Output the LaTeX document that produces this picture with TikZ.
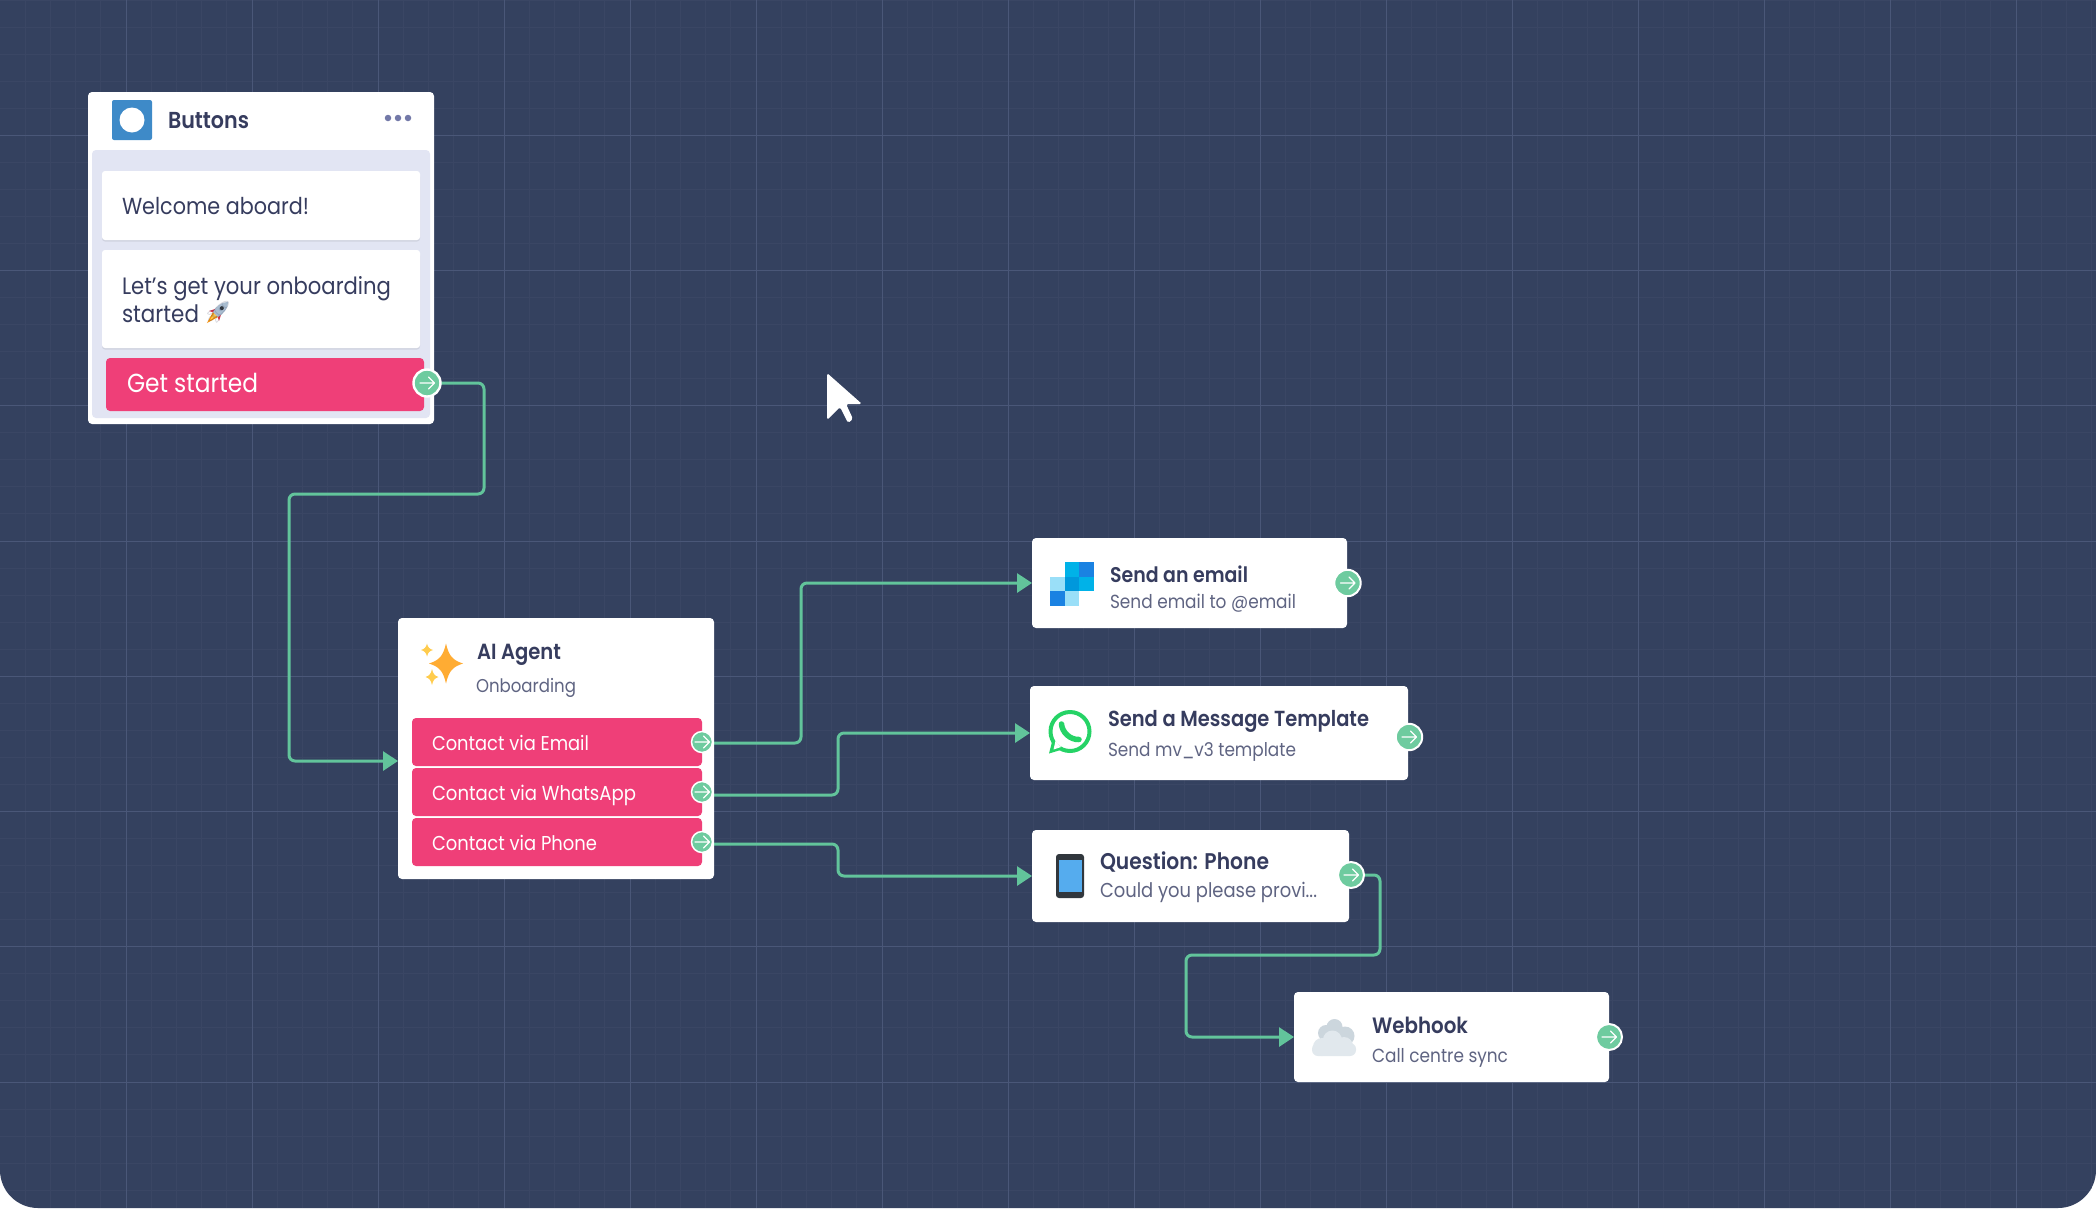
\documentclass[tikz,border=0pt]{standalone}
\usepackage{fontspec}
\usepackage{graphicx}
\usetikzlibrary{arrows.meta,backgrounds}
\setmainfont{Poppins}
\newfontfamily\medf{Poppins SemiBold}
\newfontfamily\emojif{Noto Emoji}
\definecolor{bgc}{HTML}{34415F}
\definecolor{gmin}{HTML}{3A4664}
\definecolor{gmaj}{HTML}{4A5778}
\definecolor{pinkc}{HTML}{EF3F78}
\definecolor{lav}{HTML}{E2E5F3}
\definecolor{wirec}{HTML}{62C49B}
\definecolor{portc}{HTML}{6ECB9F}
\definecolor{darkt}{HTML}{363C5E}
\definecolor{subt}{HTML}{5F6482}
\definecolor{iconb}{HTML}{3E8AC8}
\definecolor{dotc}{HTML}{7379A8}
\definecolor{wag}{HTML}{25D366}
\definecolor{sa}{HTML}{00B2E8}
\definecolor{sb}{HTML}{1A82E2}
\definecolor{sc}{HTML}{9ADFF8}
\definecolor{sd}{HTML}{0098DC}
\definecolor{phb}{HTML}{31373D}
\definecolor{phs}{HTML}{55ACEE}
\definecolor{cla}{HTML}{CCD6DD}
\definecolor{clb}{HTML}{E1E8ED}
\definecolor{stara}{HTML}{FFAC33}
\definecolor{starb}{HTML}{FFCC4D}
\definecolor{rbody}{HTML}{A9BDD0}
\definecolor{rred}{HTML}{DD2E44}
\definecolor{rorg}{HTML}{F4900C}
\definecolor{ryel}{HTML}{FFCC4D}
\tikzset{
  boxst/.style={draw=none,inner sep=0pt,outer sep=0pt,rounded corners=4pt,anchor=north west,rectangle},
  cardst/.style={boxst,fill=white},
  lavst/.style={boxst,fill=lav},
  inst/.style={boxst,fill=white,rounded corners=3pt},
  pinkst/.style={boxst,fill=pinkc},
  portst/.style={circle,fill=portc,draw=white,inner sep=0pt,outer sep=0pt},
  wire/.style={draw=wirec,line width=3pt,rounded corners=6pt},
  wirea/.style={wire,-{Triangle[length=15pt,width=19pt]}},
  txtst/.style={inner sep=0pt,outer sep=0pt,anchor=base west},
  parrow/.style={draw=white,line width=1.3pt,line cap=round,line join=round}
}
\newcommand{\bx}[6]{\node[#6,minimum width=#4pt-#2pt,minimum height=#5pt-#3pt] (#1) at (#2,#3) {};}
\newcommand{\tx}[7]{\node[txtst,text=#6] (#1) at (#2,#3) {\scalebox{1}[1.12]{\resizebox{#4pt}{!}{#5#7}}};}
\newcommand{\portn}[5]{%
  \node[portst,minimum size=#4*2pt,line width=#5pt] (#1) at (#2,#3) {};
  \draw[parrow] (#2-7,#3) -- (#2+7,#3) (#2+1.5,#3-6) -- (#2+7.5,#3) -- (#2+1.5,#3+6);}
\newcommand{\sparkle}[5]{\begin{scope}[shift={(#1,#2)},xscale=#3,yscale=#4]
  \fill[#5] (0,-1) .. controls (.17,-.38) and (.38,-.17) .. (1,0) .. controls (.38,.17) and (.17,.38) .. (0,1) .. controls (-.17,.38) and (-.38,.17) .. (-1,0) .. controls (-.38,-.17) and (-.17,-.38) .. (0,-1) -- cycle;
\end{scope}}
\begin{document}
\begin{tikzpicture}[x=1pt,y=-1pt]
\useasboundingbox (0,0) rectangle (2096,1208);
\begin{pgfonlayer}{background}
\fill[white] (0,0) rectangle (2096,1208);
\fill[bgc] (0,0) -- (2096,0) -- (2096,1170) arc[start angle=0,end angle=90,radius=38] -- (38,1208) arc[start angle=90,end angle=180,radius=38] -- cycle;
\begin{scope}
\clip (0,0) -- (2096,0) -- (2096,1170) arc[start angle=0,end angle=90,radius=38] -- (38,1208) arc[start angle=90,end angle=180,radius=38] -- cycle;
\foreach \i in {1,...,83} \draw[gmin,line width=1pt] ({\i*25.2},0) -- ({\i*25.2},1208);
\foreach \i in {0,...,44} \draw[gmin,line width=1pt] (0,{\i*27.05}) -- (2096,{\i*27.05});
\foreach \i in {1,...,16} \draw[gmaj,line width=1pt] ({\i*126},0) -- ({\i*126},1208);
\foreach \i in {1,...,8} \draw[gmaj,line width=1pt] (0,{\i*135.27}) -- (2096,{\i*135.27});
\end{scope}
\end{pgfonlayer}

% cursor
\fill[white,rounded corners=1.8pt] (827,373) -- (862,404) -- (846,404) -- (853,419) -- (848,423) -- (840,407) -- (827,420) -- cycle;

% Buttons card
\bx{btncard}{88}{92}{434}{424}{cardst}
\bx{btnlav}{92}{150}{430}{418}{lavst}
\fill[black!8!lav,rounded corners=3pt] (102,174) rectangle (420,241.5);
\fill[black!8!lav,rounded corners=3pt] (102,253) rectangle (420,349.5);
\bx{welcbox}{102}{171}{420}{240}{inst}
\bx{letsbox}{102}{250}{420}{348}{inst}
\bx{getbox}{106}{358}{424}{411}{pinkst}
\node[boxst,fill=iconb,rounded corners=2pt,minimum size=40pt] (btnicon) at (112,100) {};
\node[circle,fill=white,inner sep=0pt,minimum size=25pt] (btndot) at (132,120) {};
\tx{btntitle}{168}{128}{81}{\medf}{darkt}{Buttons}
\node[circle,fill=dotc,inner sep=0pt,minimum size=6.5pt] (d1) at (388,118) {};
\node[circle,fill=dotc,inner sep=0pt,minimum size=6.5pt] (d2) at (398,118) {};
\node[circle,fill=dotc,inner sep=0pt,minimum size=6.5pt] (d3) at (408,118) {};
\tx{welc}{122}{214}{187}{}{darkt}{Welcome aboard!}
\tx{lets}{122}{294}{269}{}{darkt}{Let's get your onboarding}
\tx{start}{122}{322}{77}{}{darkt}{started}
% rocket
\begin{scope}[shift={(219,311)},rotate=-45]
  \fill[rred] (-7,7) -- (-2.5,-2) -- (2.5,-2) -- (7,7) -- (3,5) -- (-3,5) -- cycle;
  \fill[rorg] (-3.5,5) -- (3.5,5) -- (0,17) -- cycle;
  \fill[ryel] (-1.8,5) -- (1.8,5) -- (0,13) -- cycle;
  \fill[rbody] (0,-13) .. controls (5,-8) and (5,0) .. (3.5,5) -- (-3.5,5) .. controls (-5,0) and (-5,-8) .. (0,-13) -- cycle;
  \fill[phb] (0,-4) circle (2);
\end{scope}
\gdef\rockettxt{🚀}
\node[inner sep=0pt,outer sep=0pt,text=darkt,opacity=.2,font=\emojif\fontsize{22pt}{22pt}\selectfont] (rocket) at (218,312) {\rockettxt};
\tx{gets}{127}{392}{131}{}{white}{Get started}
\portn{pget}{427}{383}{13.5}{2.4}

% AI agent
\bx{aicard}{398}{618}{714}{879}{cardst}
\coordinate (aiin) at (398,761);
\sparkle{446}{663.5}{17}{20}{stara}
\sparkle{427}{650}{6}{6.5}{starb}
\sparkle{432}{677}{6.5}{8}{starb}
\tx{aititle}{477}{659}{84}{\medf}{darkt}{AI Agent}
\tx{aisub}{476}{692}{100}{}{subt}{Onboarding}
\bx{bem}{412}{718}{702}{766}{pinkst}
\bx{bwa}{412}{768}{702}{816}{pinkst}
\bx{bph}{412}{818}{702}{866}{pinkst}
\tx{tem}{432}{750}{157}{}{white}{Contact via Email}
\tx{twa}{432}{800}{204}{}{white}{Contact via WhatsApp}
\tx{tph}{432}{850}{165}{}{white}{Contact via Phone}
\portn{pem}{702}{742}{10.5}{1.5}
\portn{pwa}{702}{792}{10.5}{1.5}
\portn{pph}{702}{842}{10.5}{1.5}
\coordinate (oem) at (714,743);
\coordinate (owa) at (714,795);
\coordinate (oph) at (714,844);

% Send email
\bx{sendcard}{1032}{538}{1347}{628}{cardst}
\fill[sa] (1064.6,562) rectangle (1079.4,576.7);
\fill[sb] (1079.3,562) rectangle (1094,576.7);
\fill[sc] (1050,576.6) rectangle (1064.7,591.4);
\fill[sd] (1064.6,576.6) rectangle (1079.4,591.4);
\fill[sa] (1079.3,576.6) rectangle (1094,591.4);
\fill[sb] (1050,591.3) rectangle (1064.7,606);
\fill[sc] (1064.6,591.3) rectangle (1079.4,606);
\tx{sendt}{1110}{582}{138}{\medf}{darkt}{Send an email}
\tx{sends}{1110}{608}{186}{}{subt}{Send email to @email}
\portn{psend}{1347.5}{583}{13.2}{2}

% Message
\bx{msgcard}{1030}{686}{1408}{780}{cardst}
\fill[wag] (1049,753.5) -- (1053,738) -- (1064,749) -- cycle;
\draw[wag,line width=4pt,fill=white] (1070,731.5) circle (19.5);
\fill[white] (1053.5,749.5) -- (1055.5,741) -- (1061,747) -- cycle;
\draw[wag,line width=5.5pt,line cap=round] (1061.5,724) .. controls (1062,732) and (1070,740) .. (1079,739.5);
\tx{msgt}{1108}{726}{261}{\medf}{darkt}{Send a Message Template}
\tx{msgs}{1108}{756}{188}{}{subt}{Send mv\_v3 template}
\portn{pmsg}{1409}{737}{13.2}{2}

% Question
\bx{qcard}{1032}{830}{1349}{922}{cardst}
\fill[phb,rounded corners=3pt] (1056,854) rectangle (1084,898);
\fill[phs] (1058.5,860) rectangle (1081.5,892);
\tx{qt}{1100}{869}{169}{\medf}{darkt}{Question: Phone}
\tx{qs}{1100}{897}{217}{}{subt}{Could you please provi...}
\portn{pq}{1351}{875}{13}{2}

% Webhook
\bx{wcard}{1294}{992}{1609}{1082}{cardst}
\fill[cla] (1334.5,1027) circle (8) (1326,1033) circle (8) (1345,1036) circle (9.5);
\fill[clb] (1332.4,1040) circle (9.5) (1322,1047) circle (9) (1344,1046) circle (9);
\fill[clb,rounded corners=6pt] (1312,1043) rectangle (1356,1056);
\tx{wt}{1372}{1033}{96}{\medf}{darkt}{Webhook}
\tx{ws}{1372}{1062}{136}{}{subt}{Call centre sync}
\portn{pw}{1609}{1037}{13}{2}

% connectors
\begin{pgfonlayer}{background}
\draw[wirea] (pget.center) -- (484,383) -- (484,494) -- (289,494) -- (289,761) -- (aiin);
\draw[wirea] (oem) -- (801,743) |- (sendcard.west);
\draw[wirea] (owa) -- (838,795) |- (msgcard.west);
\draw[wirea] (oph) -- (838,844) |- (qcard.west);
\draw[wirea] (pq.center) -- (1380,875) -- (1380,955) -- (1186,955) |- (wcard.west);
\end{pgfonlayer}
\end{tikzpicture}
\end{document}
